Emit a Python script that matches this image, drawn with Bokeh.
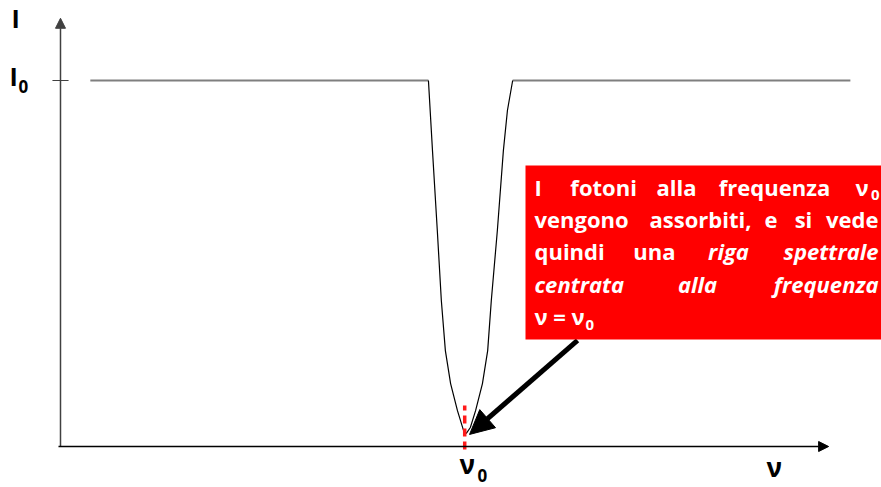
from bokeh.plotting import figure
from bokeh.models import Arrow, NormalHead, Label, BoxAnnotation, Range1d
from bokeh.embed import file_html
from bokeh.resources import INLINE

# ---------------- data ----------------
NU0 = 1.003        # line centre frequency
I0 = 1.0           # continuum intensity
baseline_left_nu = [0.074, 0.913]
baseline_right_nu = [1.122, 1.960]
line_nu = [0.913, 0.923, 0.935, 0.945, 0.955, 0.968, 0.985, 1.000, 1.007,
           1.017, 1.030, 1.047, 1.060, 1.069, 1.084, 1.099, 1.109, 1.122]
line_I = [1.000, 0.809, 0.590, 0.399, 0.262, 0.172, 0.098, 0.044, 0.036,
          0.052, 0.098, 0.172, 0.262, 0.399, 0.590, 0.809, 0.918, 1.000]
axis_nu_max = 1.906
axis_I_max = 1.17
arrow_tail = (1.283, 0.290)
arrow_tip = (1.015, 0.033)
dash_I = [-0.008, 0.112]

W, H = 881, 487
p = figure(width=W, height=H, output_backend="svg", toolbar_location=None,
           x_range=Range1d(-0.14888, 2.03722), y_range=Range1d(-0.11202, 1.21858),
           min_border=0, x_axis_type=None, y_axis_type=None)
p.outline_line_color = None
p.grid.visible = False
p.background_fill_color = "white"
p.border_fill_color = "white"

# continuum
p.line(baseline_left_nu, [I0, I0], line_color="#7f7f7f", line_width=2)
p.line(baseline_right_nu, [I0, I0], line_color="#7f7f7f", line_width=2)
# absorption line
p.line(line_nu, line_I, line_color="black", line_width=1.2)

# axes with arrow heads
p.add_layout(Arrow(end=NormalHead(size=10, fill_color="#404040", line_color="#404040"),
                   x_start=0, y_start=0, x_end=0, y_end=axis_I_max,
                   line_color="#404040", line_width=1.5))
p.add_layout(Arrow(end=NormalHead(size=10, fill_color="black", line_color="black"),
                   x_start=-0.005, y_start=0, x_end=axis_nu_max, y_end=0,
                   line_color="black", line_width=1.5))
# I0 tick
p.segment(x0=[-0.02], y0=[I0], x1=[0.02], y1=[I0], line_color="#404040", line_width=1.2)

# red dashed line at nu0
p.segment(x0=[NU0], y0=[dash_I[0]], x1=[NU0], y1=[dash_I[1]],
          line_color="#ff1a1a", line_width=3.5, line_dash="8 5")

# black arrow pointing at the line centre
p.add_layout(Arrow(end=NormalHead(size=24, fill_color="black", line_color="black"),
                   x_start=arrow_tail[0], y_start=arrow_tail[1],
                   x_end=arrow_tip[0], y_end=arrow_tip[1],
                   line_color="black", line_width=5))

# layout helpers (page px -> screen units)
def sx(px):
    return px

def sy(py):
    return H - py

p.add_layout(BoxAnnotation(left=sx(525), right=W, top=sy(165), bottom=sy(339),
                           left_units="screen", right_units="screen",
                           top_units="screen", bottom_units="screen",
                           fill_color="#ff0000", fill_alpha=1, line_color=None))

FONT = "Open Sans"
NB = "\u00a0"

def lab(text, px, py, size, align="left", style="bold", color="white"):
    # baseline correction: rendered baseline sits ~0.4*size below the requested y
    py = py - 0.4 * size
    p.add_layout(Label(x=sx(px), y=sy(py), x_units="screen", y_units="screen",
                       text=text, text_font=FONT, text_font_size=f"{size}px",
                       text_font_style=style, text_color=color,
                       text_align=align, text_baseline="alphabetic"))

fs = 22
# line 1
lab("I" + NB * 5 + "fotoni", 534, 195, fs)
lab("alla", 676, 195, fs, "center")
lab("frequenza", 774, 195, fs, "center")
lab("ν", 868, 195, fs, "right")
lab("0", 879, 200, 15, "right")
# line 2
lab("vengono", 534, 227, fs)
lab("assorbiti,", 700, 227, fs, "center")
lab("e" + NB * 3 + "si", 764, 227, fs)
lab("vede", 878, 227, fs, "right")
# line 3
lab("quindi" + NB * 5 + "una", 534, 259, fs)
lab("riga", 728, 259, fs, "center", "bold italic")
lab("spettrale", 878, 259, fs, "right", "bold italic")
# line 4
lab("centrata", 534, 292, fs, "left", "bold italic")
lab("alla", 697, 292, fs, "center", "bold italic")
lab("frequenza", 878, 292, fs, "right", "bold italic")
# line 5
lab("ν = ν", 534, 324, fs)
lab("0", 585, 330, 15)

# axis labels
lab("I", 11, 27, 25, color="black")
lab("I", 9, 85, 25, color="black")
lab("0", 18, 93, 17, color="black")
lab("ν", 459, 474, 26, color="black")
lab("0", 477, 482, 17, color="black")
lab("ν", 766, 477, 26, color="black")

open("out.html", "w").write(file_html(p, INLINE))
